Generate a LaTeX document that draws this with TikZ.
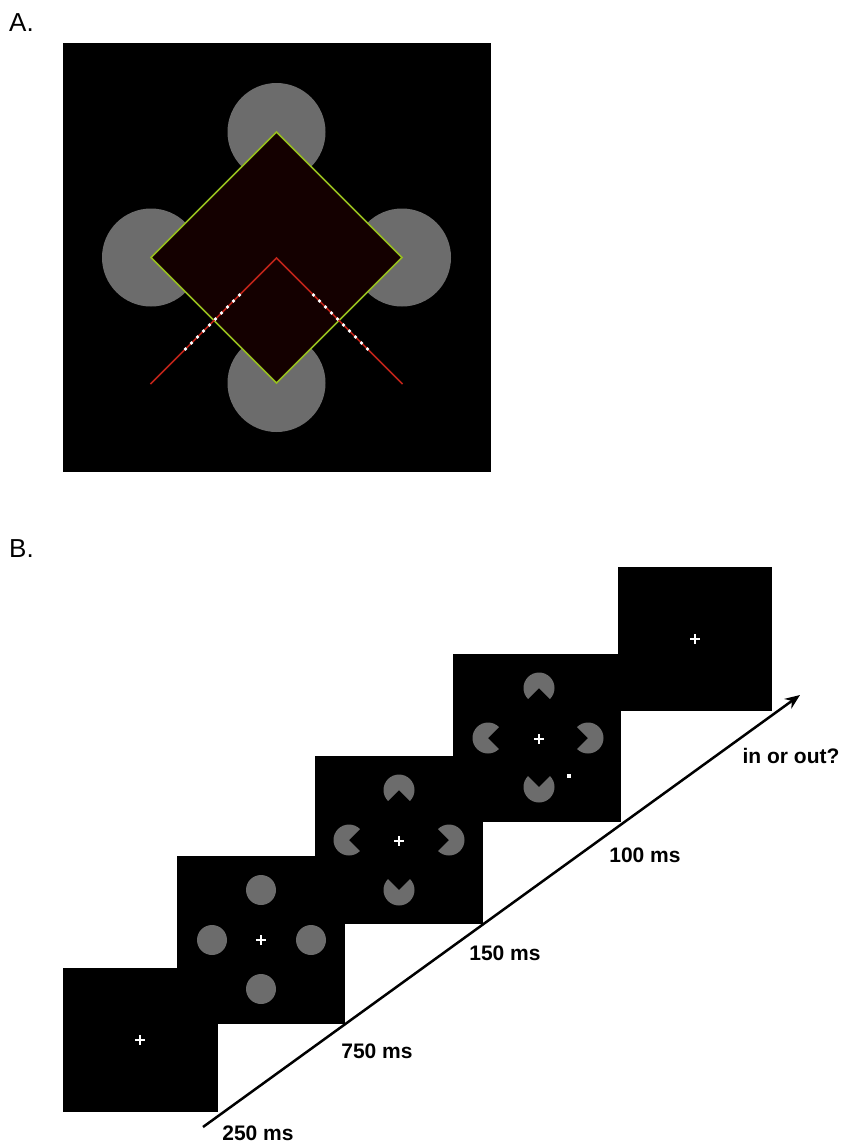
\documentclass[tikz,border=0pt]{standalone}
\usepackage{fontspec}
\setmainfont{Liberation Sans}
\usetikzlibrary{arrows.meta}
\definecolor{inducerc}{RGB}{108,108,108}
\definecolor{dredc}{RGB}{20,0,0}
\definecolor{ygreenc}{RGB}{150,190,30}
\definecolor{rlinec}{RGB}{190,35,25}
\newcommand\mypac[4]{%
  \fill[inducerc] (#1,#2) -- ++(#4+45:#3) arc[start angle=#4+45, end angle=#4+315, radius=#3] -- cycle;}
\newcommand\mycross[2]{%
  \draw[fixc] (#1-5,#2) -- (#1+5,#2);
  \draw[fixc] (#1,#2-5) -- (#1,#2+5);}
\begin{document}
\begin{tikzpicture}[x=1pt,y=-1pt,
  screen/.style={fill=black},
  fixc/.style={white, line width=1.8pt},
  panel/.style={font=\fontsize{26}{30}\selectfont, inner sep=0pt, anchor=base west},
  lbl/.style={font=\fontsize{21}{25}\selectfont\bfseries, inner sep=0pt, anchor=center}]
\useasboundingbox (0,0) rectangle (845,1144);
\fill[white] (0,0) rectangle (845,1144);

% ---------- Panel A ----------
\node[panel] (labA) at (9,31) {A.};
\fill[black] (63,43) rectangle (491,472);
\fill[inducerc] (276.5,132) circle[radius=49];
\fill[inducerc] (151,257.5) circle[radius=49];
\fill[inducerc] (402,257.5) circle[radius=49];
\fill[inducerc] (276.5,383) circle[radius=49];
\draw[ygreenc, fill=dredc, line width=1.5pt, line join=miter]
  (276.5,132) -- (402,257.5) -- (276.5,383) -- (151,257.5) -- cycle;
\draw[rlinec, line width=1.5pt] (150.5,384) -- (276.5,258) -- (402.5,384);
\foreach \i in {0,...,9}{
  \pgfmathsetmacro\dx{37+6*\i}
  \fill[white] (276.5-\dx,258+\dx) circle[radius=1.9];
  \fill[white] (276.5+\dx,258+\dx) circle[radius=1.9];
}

% ---------- Panel B ----------
\node[panel] (labB) at (9,557) {B.};
% screens
\fill[screen] (63,968) rectangle (218,1112);
\fill[screen] (177,856) rectangle (345,1024);
\fill[screen] (315,756) rectangle (483,924);
\fill[screen] (453,654) rectangle (621,822);
\fill[screen] (618,567) rectangle (772,711);

% screen 1
\mycross{140}{1040}
% screen 2
\fill[inducerc] (261,890) circle[radius=15];
\fill[inducerc] (261,989) circle[radius=15];
\fill[inducerc] (212,940) circle[radius=15];
\fill[inducerc] (311,940) circle[radius=15];
\mycross{261}{940}
% screen 3
\mypac{399}{790}{15.5}{90}
\mypac{399}{890}{15.5}{270}
\mypac{349}{840}{15.5}{0}
\mypac{449}{840}{15.5}{180}
\mycross{399}{841}
% screen 4
\mypac{539}{688}{15.5}{90}
\mypac{539}{787}{15.5}{270}
\mypac{488}{738}{15.5}{0}
\mypac{588}{738}{15.5}{180}
\mycross{539}{739}
\fill[white] (567,774) rectangle (571,778);
% screen 5
\mycross{695}{639}

% time arrow
\coordinate (arrS) at (203,1127);
\coordinate (arrE) at (800,695);
\draw[line width=2.5pt, -{Stealth[length=15pt,width=12pt,inset=5pt]}] (arrS) -- (arrE);

\node[lbl] (t250) at (258,1133) {250 ms};
\node[lbl] (t750) at (377,1051) {750 ms};
\node[lbl] (t150) at (505,953) {150 ms};
\node[lbl] (t100) at (645,855) {100 ms};
\node[lbl] (tio) at (791,756) {in or out?};
\end{tikzpicture}
\end{document}
